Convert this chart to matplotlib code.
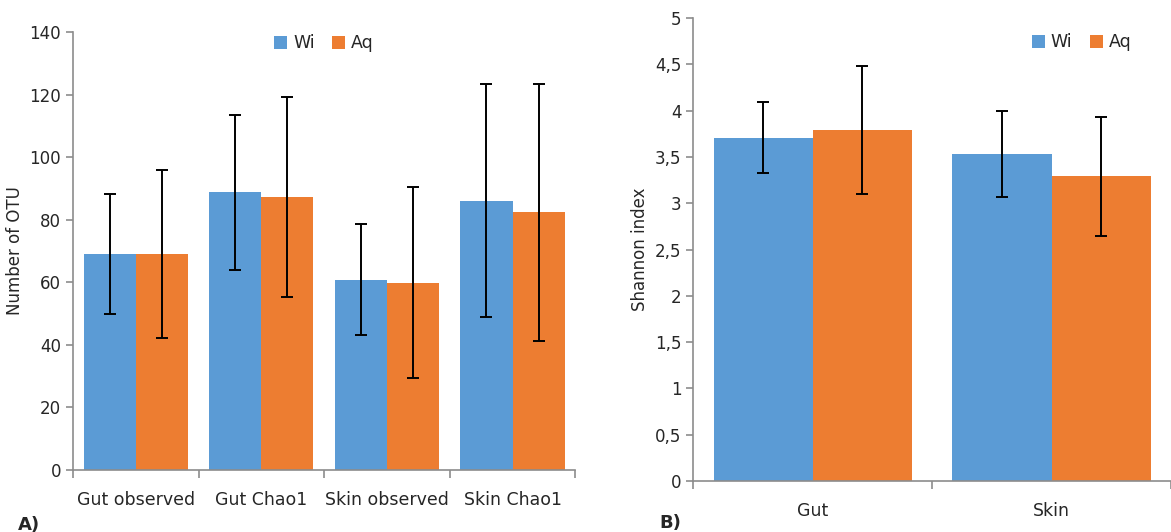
import numpy as np
import matplotlib.pyplot as plt

plt.rcParams['font.family'] = ['DejaVu Sans']

# OTU richness per metric
otu_labels = ['Gut observed', 'Gut Chao1', 'Skin observed', 'Skin Chao1']
otu_wi = [69.0, 88.7, 60.8, 86.1]
otu_aq = [69.0, 87.2, 59.9, 82.3]
otu_wi_err = [19.3, 24.7, 17.7, 37.3]
otu_aq_err = [26.8, 31.9, 30.6, 41.2]

# Shannon diversity per tissue
sh_labels = ['Gut', 'Skin']
sh_wi = [3.71, 3.53]
sh_aq = [3.79, 3.29]
sh_wi_err = [0.38, 0.465]
sh_aq_err = [0.69, 0.645]
sh_ticks = [0, 0.5, 1, 1.5, 2, 2.5, 3, 3.5, 4, 4.5, 5]

BLUE = '#5B9BD5'
ORANGE = '#ED7D31'
AXIS_GRAY = '#8c8c8c'
TEXT = '#262626'
FS = 12
width = 0.415


def grouped(ax, labels, wi, aq, wi_err, aq_err):
    x = np.arange(len(labels))
    err_kw = dict(ecolor='black', elinewidth=1.4, capsize=4, capthick=1.4)
    ax.bar(x - width / 2, wi, width, color=BLUE, yerr=wi_err, error_kw=err_kw, label='Wi')
    ax.bar(x + width / 2, aq, width, color=ORANGE, yerr=aq_err, error_kw=err_kw, label='Aq')
    ax.set_xlim(-0.5, len(labels) - 0.5)
    # boundary ticks between categories, labels on minor ticks
    ax.set_xticks(np.arange(len(labels) + 1) - 0.5)
    ax.set_xticklabels([])
    ax.set_xticks(x, minor=True)
    ax.set_xticklabels(labels, minor=True)
    ax.tick_params(axis='x', which='major', length=6, width=1.2, color=AXIS_GRAY)
    ax.tick_params(axis='x', which='minor', length=0, pad=15, labelsize=FS + 0.5, labelcolor=TEXT)
    ax.tick_params(axis='y', length=5, width=1.2, color=AXIS_GRAY, labelsize=FS, labelcolor=TEXT)
    for s in ['top', 'right']:
        ax.spines[s].set_visible(False)
    for s in ['left', 'bottom']:
        ax.spines[s].set_color(AXIS_GRAY)
        ax.spines[s].set_linewidth(1.2)
    leg = ax.legend(loc='upper center', ncol=2, frameon=False, fontsize=FS + 0.5,
                    handlelength=0.75, handleheight=0.75, handletextpad=0.35,
                    columnspacing=1.0, borderaxespad=0)
    for t in leg.get_texts():
        t.set_color(TEXT)
    return ax


fig = plt.figure(figsize=(11.71, 5.32), dpi=100)

ax1 = fig.add_axes([0.0623, 0.1165, 0.429, 0.8235])
grouped(ax1, otu_labels, otu_wi, otu_aq, otu_wi_err, otu_aq_err)
ax1.set_ylim(0, 140)
ax1.set_yticks(range(0, 141, 20))
ax1.set_ylabel('Number of OTU', fontsize=FS, color=TEXT)
ax1.legend_.set_bbox_to_anchor((0.50, 1.01))
fig.text(0.015, 0.004, 'A)', fontsize=13, fontweight='bold', color=TEXT)

ax2 = fig.add_axes([0.592, 0.0959, 0.408, 0.870])
grouped(ax2, sh_labels, sh_wi, sh_aq, sh_wi_err, sh_aq_err)
ax2.set_ylim(0, 5)
ax2.set_yticks(sh_ticks)
ax2.set_yticklabels([('%g' % v).replace('.', ',') for v in sh_ticks])
ax2.set_ylabel('Shannon index', fontsize=FS, color=TEXT)
ax2.legend_.set_bbox_to_anchor((0.813, 0.982))
fig.text(0.563, 0.008, 'B)', fontsize=13, fontweight='bold', color=TEXT)

fig.savefig('out.png', dpi=100)
